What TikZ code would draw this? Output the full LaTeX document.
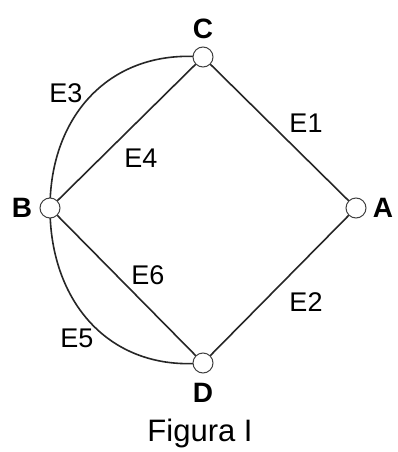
\documentclass[tikz,border=0pt]{standalone}
\usepackage{fontspec}
\setmainfont{Liberation Sans}
\begin{document}
\begin{tikzpicture}[x=1pt,y=-1pt,
  vert/.style={circle,draw=black!75,line width=1pt,fill=white,minimum size=20pt,inner sep=0pt},
  edge/.style={line width=1.6pt,black!85},
  elab/.style={font=\fontsize{27}{29}\selectfont},
  vlab/.style={font=\fontsize{28}{30}\selectfont\bfseries}]
\fill[white] (0,0) rectangle (398,452);
\useasboundingbox (0,0) rectangle (398,452);
\coordinate (pC) at (203,57);
\coordinate (pA) at (356,208);
\coordinate (pB) at (50,208);
\coordinate (pD) at (203,363);
\draw[edge] (pB) to[out=90,in=175,looseness=1.1] (pC);
\draw[edge] (pB) to[out=-90,in=185,looseness=1.1] (pD);
\draw[edge] (pB) -- (pC);
\draw[edge] (pC) -- (pA);
\draw[edge] (pB) -- (pD);
\draw[edge] (pD) -- (pA);
\node[vert] (C) at (pC) {};
\node[vert] (A) at (pA) {};
\node[vert] (B) at (pB) {};
\node[vert] (D) at (pD) {};
\node[vlab] (lC) at (203,29) {C};
\node[vlab] (lA) at (383,208) {A};
\node[vlab] (lB) at (22,208) {B};
\node[vlab] (lD) at (203,393) {D};
\node[elab] (e1) at (306,123) {E1};
\node[elab] (e2) at (306,302) {E2};
\node[elab] (e3) at (66,93) {E3};
\node[elab] (e4) at (141,158) {E4};
\node[elab] (e5) at (77,338) {E5};
\node[elab] (e6) at (148,275) {E6};
\node[font=\fontsize{31}{34}\selectfont] (fig) at (200,433) {Figura I};
\end{tikzpicture}
\end{document}
